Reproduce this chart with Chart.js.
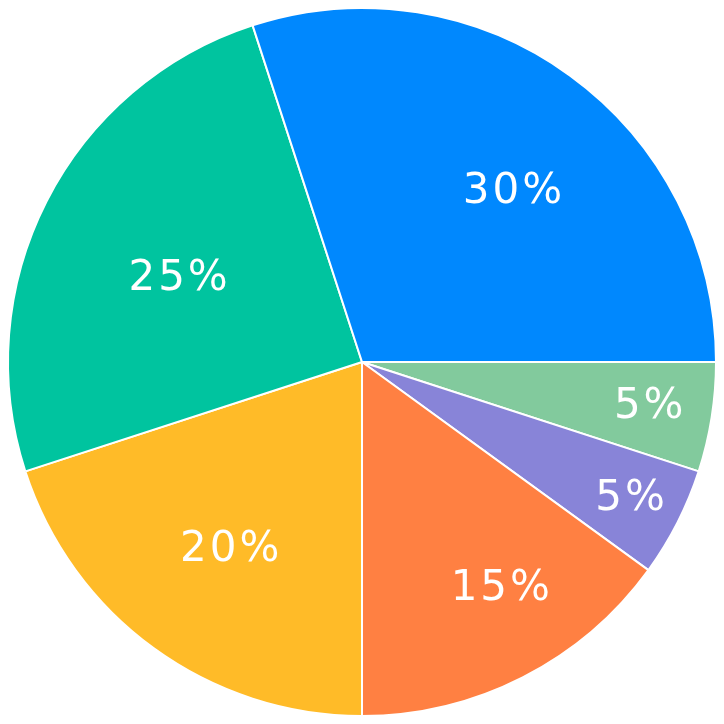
<!DOCTYPE html>
<html>
<head>
<meta charset="utf-8">
<script src="https://cdn.jsdelivr.net/npm/chart.js@4/dist/chart.umd.min.js"></script>
<style>
  html, body { margin: 0; padding: 0; background: #fff; }
  #wrap { width: 724px; height: 724px; }
</style>
</head>
<body>
<div id="wrap"><canvas id="myChart"></canvas></div>
<script>
'use strict';

// slices, clockwise from 3 o'clock
const labels = ['F', 'E', 'D', 'C', 'B', 'A'];
const values = [5, 5, 15, 20, 25, 30];
const colors = ['#82CA9D', '#8884D8', '#FF8042', '#FFBB28', '#00C49F', '#0088FE'];

// where each percent label sits: radius fraction and angle nudge (deg)
const labelRadius = [0.82, 0.85, 0.75, 0.65, 0.57, 0.64];
const labelShift = [0, 0, -4.4, -0.9, -2.7, 5.6];

const percentLabels = {
  id: 'percentLabels',
  afterDatasetsDraw(chart) {
    const ctx = chart.ctx;
    const meta = chart.getDatasetMeta(0);
    const total = values.reduce((a, b) => a + b, 0);
    ctx.save();
    ctx.fillStyle = '#fff';
    ctx.font = '42px "DejaVu Sans", sans-serif';
    ctx.letterSpacing = '3px';
    ctx.textAlign = 'center';
    ctx.textBaseline = 'middle';
    meta.data.forEach((arc, i) => {
      const p = arc.getProps(['x', 'y', 'startAngle', 'endAngle', 'outerRadius'], true);
      const mid = (p.startAngle + p.endAngle) / 2 + labelShift[i] * Math.PI / 180;
      const r = p.outerRadius * labelRadius[i];
      const txt = Math.round(values[i] / total * 100) + '%';
      ctx.fillText(txt, p.x + Math.cos(mid) * r + 1.5, p.y + Math.sin(mid) * r);
    });
    ctx.restore();
  }
};

const ctx = document.getElementById('myChart');
const myChart = new Chart(ctx, {
  type: 'pie',
  data: {
    labels: labels,
    datasets: [{
      data: values,
      backgroundColor: colors,
      borderColor: '#fff',
      borderWidth: 2,
    }]
  },
  options: {
    responsive: true,
    maintainAspectRatio: false,
    animation: false,
    rotation: 90,
    layout: { padding: 7 },
    plugins: {
      legend: { display: false },
      tooltip: { enabled: false },
    }
  },
  plugins: [percentLabels]
});
</script>
</body>
</html>
